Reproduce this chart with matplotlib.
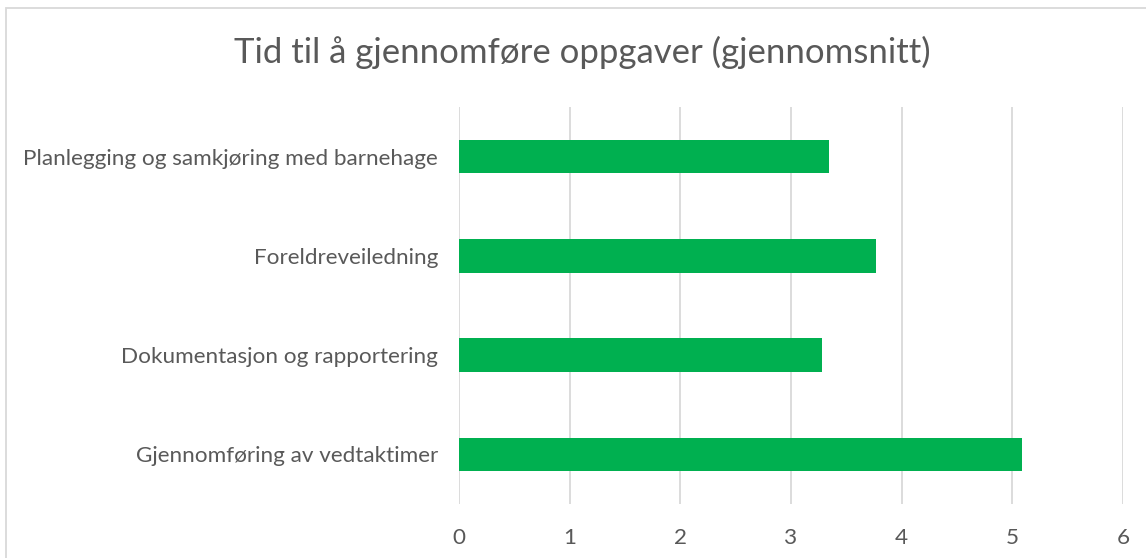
import matplotlib
matplotlib.use('Agg')
import matplotlib.pyplot as plt
from matplotlib.patches import Rectangle

categories = ['Gjennomføring av vedtaktimer', 'Dokumentasjon og rapportering',
              'Foreldreveiledning', 'Planlegging og samkjøring med barnehage']
values = [5.09, 3.28, 3.77, 3.34]
xticks = [0, 1, 2, 3, 4, 5, 6]

plt.rcParams['font.family'] = ['Lato', 'DejaVu Sans']
TXT = '#595959'
W, H = 1146, 558

fig = plt.figure(figsize=(W / 100, H / 100), dpi=100)
fig.patches.append(Rectangle((6 / W, -0.2), 1.2, 1.2 - 8 / H, transform=fig.transFigure,
                             fill=False, edgecolor='#d9d9d9', linewidth=1.3))

ax = fig.add_axes([459 / W, 1 - 504 / H, (1123 - 459) / W, (504 - 107) / H])
ax.barh(range(len(categories)), values, height=0.34, color='#00b050', zorder=3)
ax.set_ylim(-0.5, len(categories) - 0.5)
ax.set_xlim(0, 6)
ax.set_xticks(xticks)
ax.set_yticks(range(len(categories)))
ax.set_yticklabels(categories, fontsize=16.2, color=TXT)
ax.tick_params(axis='x', labelsize=16.2, labelcolor=TXT, length=0, pad=17)
ax.tick_params(axis='y', length=0, pad=15)
ax.grid(axis='x', color='#d9d9d9', linewidth=1.3, zorder=0)
for s in ax.spines.values():
    s.set_visible(False)

fig.text(582 / W, 1 - 52 / H, 'Tid til å gjennomføre oppgaver (gjennomsnitt)',
         ha='center', va='center', fontsize=25, color=TXT)

fig.savefig('out.png', dpi=100)
